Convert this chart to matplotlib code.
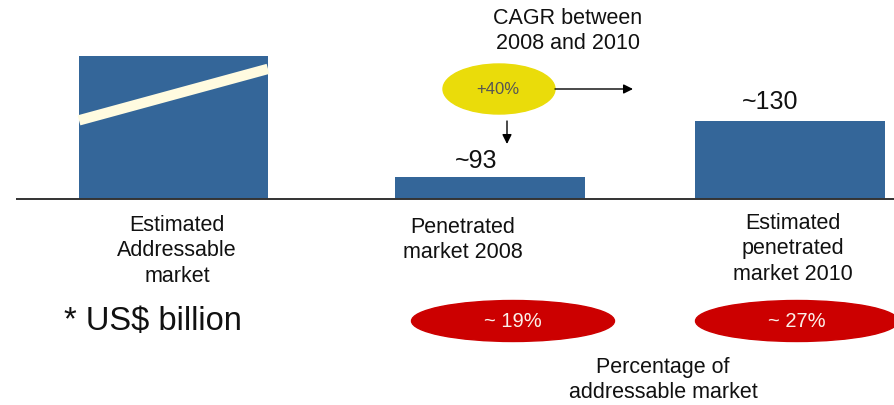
import matplotlib
matplotlib.use("Agg")
import matplotlib.pyplot as plt
from matplotlib.patches import Ellipse

# schematic market bars (drawn heights are illustrative, not to scale)
CATEGORIES = [
    "Estimated\nAddressable\nmarket",
    "Penetrated\nmarket 2008",
    "Estimated\npenetrated\nmarket 2010",
]
BAR_HEIGHTS = [143, 22, 78]
VALUE_LABELS = [None, "~93", "~130"]
SHARE_LABELS = [None, "~ 19%", "~ 27%"]
CAGR_LABEL = "+40%"

BAR_COLOR = "#346699"
STRIPE_COLOR = "#FFFBE0"
CAGR_COLOR = "#EADC0A"
SHARE_COLOR = "#CC0000"
FONT = ["Liberation Sans", "DejaVu Sans"]

plt.rcParams["font.family"] = FONT


def main():
    fig = plt.figure(figsize=(8.94, 4.06), dpi=100)
    ax = fig.add_axes([0, 0, 1, 1])
    ax.set_xlim(0, 894)
    ax.set_ylim(-206, 200)
    ax.axis("off")

    centers = [173.5, 490, 790]
    widths = [189, 190, 190]
    ax.bar(centers, BAR_HEIGHTS, width=widths, color=BAR_COLOR, zorder=2)
    ax.hlines(0, 16, 894, color="#333333", linewidth=1.4, zorder=3)

    # rising stripe across the addressable market bar
    left = centers[0] - widths[0] / 2
    right = centers[0] + widths[0] / 2
    ax.plot([left, right], [BAR_HEIGHTS[0] * 0.55, BAR_HEIGHTS[0] * 0.91],
            color=STRIPE_COLOR, linewidth=7.5, solid_capstyle="butt", zorder=3)

    label_pos = [(177, -51), (463, -40), (793, -49)]
    for text, pos in zip(CATEGORIES, label_pos):
        ax.text(pos[0], pos[1], text, ha="center", va="center", fontsize=15.5,
                color="#111111", linespacing=1.27)

    value_pos = [None, (476, 39), (770, 98)]
    for text, pos in zip(VALUE_LABELS, value_pos):
        if text:
            ax.text(pos[0], pos[1], text, ha="center", va="center",
                    fontsize=18, color="#111111")

    share_pos = [None, (513, -122), (797, -122)]
    for text, pos in zip(SHARE_LABELS, share_pos):
        if text:
            ax.add_patch(Ellipse(pos, 203, 41, color=SHARE_COLOR, zorder=2))
            ax.text(pos[0], pos[1], text, ha="center", va="center",
                    fontsize=14.5, color="#FBF1EA", zorder=3)

    # CAGR bubble with arrows
    ax.add_patch(Ellipse((499, 110), 112, 50, color=CAGR_COLOR, zorder=2))
    ax.text(498, 110, CAGR_LABEL, ha="center", va="center", fontsize=12,
            color="#555555", zorder=3)
    ax.annotate("", xy=(633, 110), xytext=(555, 110),
                arrowprops=dict(arrowstyle="-|>", color="black", lw=1,
                                mutation_scale=14, shrinkA=0, shrinkB=0))
    ax.annotate("", xy=(507, 55), xytext=(507, 78),
                arrowprops=dict(arrowstyle="-|>", color="black", lw=1,
                                mutation_scale=14, shrinkA=0, shrinkB=0))
    ax.text(568, 169, "CAGR between\n2008 and 2010", ha="center", va="center",
            fontsize=15.5, color="#111111", linespacing=1.27)

    ax.text(153, -122, "* US$ billion", ha="center", va="center",
            fontsize=23.5, color="#111111")
    ax.text(663, -180, "Percentage of\naddressable market", ha="center",
            va="center", fontsize=15.5, color="#111111", linespacing=1.27)

    fig.savefig("out.png", dpi=100)
    plt.close(fig)


if __name__ == "__main__":
    main()
